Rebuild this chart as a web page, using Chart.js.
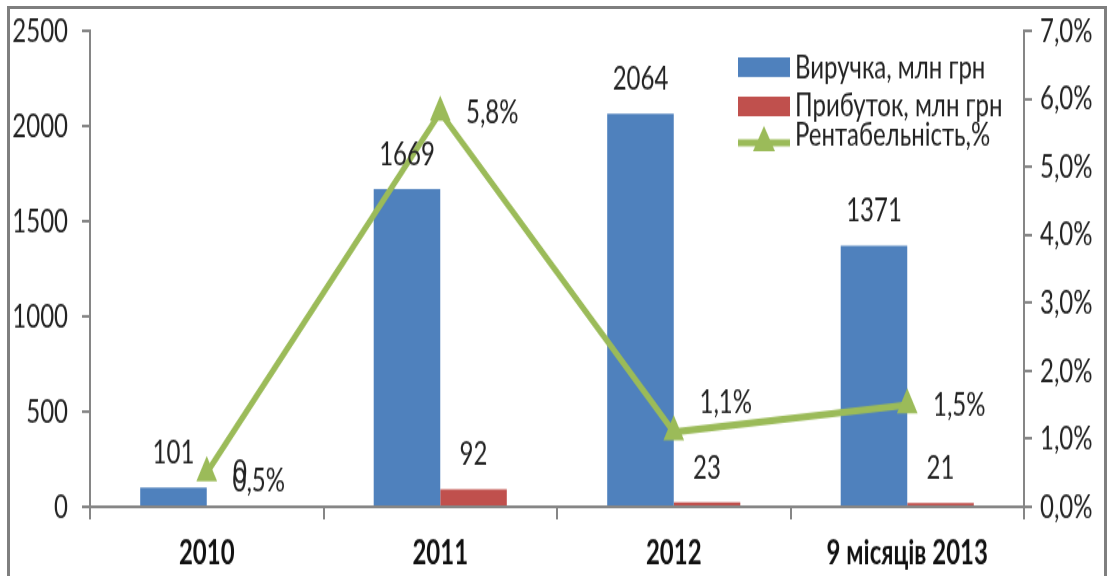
<!DOCTYPE html>
<html lang="uk">
<head>
  <meta charset="UTF-8">
  <title>Виручка, прибуток, рентабельність</title>
  <script src="https://cdn.jsdelivr.net/npm/chart.js"></script>
  <style>
    html, body { margin: 0; padding: 0; background: #fff; overflow: hidden; }
    .frame {
      position: absolute; left: 7px; top: 6px; width: 1094px; height: 600px;
      border: 3px solid #7f7f7f; pointer-events: none;
    }
    /* the source picture is stretched vertically, so the chart is too */
    .wrap {
      position: absolute; left: 0; top: 0; width: 1112px; height: 412px;
      transform: scaleY(1.4); transform-origin: 0 0;
    }
  </style>
</head>
<body>
  <div class="wrap"><canvas id="grafik"></canvas></div>
  <div class="frame"></div>

  <script>
    // дані
    const roky = ["2010", "2011", "2012", "9 місяців 2013"];
    const vyruchka = [101, 1669, 2064, 1371];
    const prybutok = [0, 92, 23, 21];
    const rentabelnist = [0.5, 5.8, 1.1, 1.5];
    const liviTyky = [0, 500, 1000, 1500, 2000, 2500];

    const SHRIFT = 'Lato, "Open Sans", sans-serif';
    const SYNIY = "#4f81bd";
    const CHERVONYY = "#c0504d";
    const ZELENYY = "#9bbb59";
    const SIRYY = "#868686";

    const vidsotky = v => v.toFixed(1).replace(".", ",") + "%";

    // зсув підписів лінії по вертикалі (в пікселях полотна)
    const zsuvLinii = [6, 0, -21, 0];

    // підписи значень над стовпчиками та біля точок
    const pidpysy = {
      id: "pidpysy",
      afterDatasetsDraw(chart) {
        const ctx = chart.ctx;
        ctx.save();
        ctx.font = "24px " + SHRIFT;
        ctx.fillStyle = "#222";
        ctx.textAlign = "center";
        ctx.textBaseline = "middle";
        chart.data.datasets.forEach((ds, i) => {
          const meta = chart.getDatasetMeta(i);
          meta.data.forEach((el, j) => {
            if (ds.type === "line") {
              ctx.fillText(vidsotky(ds.data[j]), el.x + 52, el.y + zsuvLinii[j]);
            } else {
              ctx.fillText(String(ds.data[j]), el.x, el.y - 25);
            }
          });
        });
        ctx.restore();
      }
    };

    // легенда всередині області графіка
    const legenda = {
      id: "legenda",
      afterDraw(chart) {
        const ctx = chart.ctx;
        const x = 738, w = 52;
        ctx.save();
        ctx.font = "24px " + SHRIFT;
        ctx.textBaseline = "middle";

        ctx.fillStyle = SYNIY;
        ctx.fillRect(x, 41, w, 14);
        ctx.fillStyle = CHERVONYY;
        ctx.fillRect(x, 69, w, 14);

        ctx.strokeStyle = ZELENYY;
        ctx.lineWidth = 5;
        ctx.beginPath();
        ctx.moveTo(x, 102);
        ctx.lineTo(x + w, 102);
        ctx.stroke();
        ctx.fillStyle = ZELENYY;
        ctx.beginPath();
        ctx.moveTo(x + w / 2, 90);
        ctx.lineTo(x + w / 2 + 11, 108);
        ctx.lineTo(x + w / 2 - 11, 108);
        ctx.closePath();
        ctx.fill();

        ctx.fillStyle = "#222";
        ctx.fillText(chart.data.datasets[0].label, 795, 48);
        ctx.fillText(chart.data.datasets[1].label, 795, 75);
        ctx.fillText(chart.data.datasets[2].label, 795, 96);
        ctx.restore();
      }
    };

    new Chart(document.getElementById("grafik"), {
      type: "bar",
      data: {
        labels: roky,
        datasets: [
          {
            label: "Виручка, млн грн",
            data: vyruchka,
            backgroundColor: SYNIY,
            yAxisID: "y",
            order: 1
          },
          {
            label: "Прибуток, млн грн",
            data: prybutok,
            backgroundColor: CHERVONYY,
            yAxisID: "y",
            order: 1
          },
          {
            type: "line",
            label: "Рентабельність,%",
            data: rentabelnist,
            borderColor: ZELENYY,
            backgroundColor: ZELENYY,
            borderWidth: 5,
            pointStyle: "triangle",
            pointRadius: 12,
            pointBorderWidth: 0,
            yAxisID: "y1",
            order: 0
          }
        ]
      },
      options: {
        responsive: true,
        maintainAspectRatio: false,
        animation: false,
        layout: { padding: { top: 22, left: 0, right: 0, bottom: 0 } },
        datasets: { bar: { categoryPercentage: 0.57, barPercentage: 1.0 } },
        plugins: {
          legend: { display: false },
          tooltip: { enabled: false }
        },
        scales: {
          x: {
            grid: { drawOnChartArea: false, tickLength: 9, color: SIRYY, lineWidth: 2 },
            border: { color: SIRYY, width: 2 },
            ticks: { font: { family: SHRIFT, size: 24, weight: "bold" }, color: "#111", padding: 10 },
            afterFit(scale) { scale.height = 50; }
          },
          y: {
            position: "left",
            min: 0,
            max: 2500,
            afterBuildTicks(scale) { scale.ticks = liviTyky.map(v => ({ value: v })); },
            grid: { drawOnChartArea: false, tickLength: 8, color: SIRYY, lineWidth: 2 },
            border: { color: SIRYY, width: 2 },
            ticks: {
              font: { family: SHRIFT, size: 24 },
              color: "#222",
              padding: 14,
              callback: v => String(v)
            },
            afterFit(scale) { scale.width = 90; scale.paddingTop = 0; scale.paddingBottom = 0; }
          },
          y1: {
            position: "right",
            min: 0,
            max: 7,
            ticks: {
              stepSize: 1,
              font: { family: SHRIFT, size: 24 },
              color: "#222",
              padding: 8,
              callback: v => vidsotky(v)
            },
            grid: { drawOnChartArea: false, tickLength: 8, color: SIRYY, lineWidth: 2 },
            border: { color: SIRYY, width: 2 },
            afterFit(scale) { scale.width = 88; scale.paddingTop = 0; scale.paddingBottom = 0; }
          }
        }
      },
      plugins: [pidpysy, legenda]
    });
  </script>
</body>
</html>
